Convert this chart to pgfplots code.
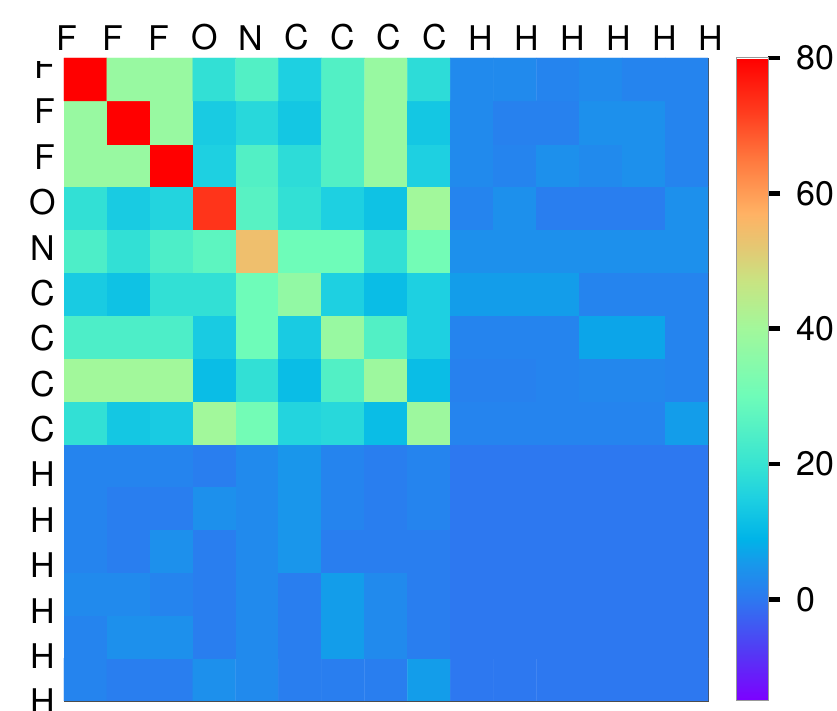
\documentclass[border=0pt]{standalone}
\usepackage{fontspec}
\setmainfont{TeX Gyre Heros}
\usepackage{pgfplots}
\pgfplotsset{compat=1.18}
\pgfplotsset{
  colormap={ref}{rgb255(0pt)=(125,0,255) rgb255(7pt)=(85,55,245) rgb255(15pt)=(45,120,240) rgb255(20pt)=(25,150,235) rgb255(24pt)=(0,180,232) rgb255(30pt)=(30,208,225) rgb255(35pt)=(55,228,210) rgb255(45pt)=(110,252,185) rgb255(55pt)=(162,248,155) rgb255(62pt)=(200,228,130) rgb255(67pt)=(228,200,115) rgb255(72pt)=(255,178,100) rgb255(80pt)=(255,120,62) rgb255(87pt)=(255,60,30) rgb255(95pt)=(255,0,0)}
}
\begin{document}
\begin{tikzpicture}
\begin{axis}[
  at={(0,0)}, anchor=south west,
  scale only axis, width=644bp, height=643bp,
  xmin=-0.5, xmax=14.5, ymin=-0.5, ymax=14.5,
  enlargelimits=false,
  axis line style={draw=black!70, line width=0.8bp},
  xtick={-0.4999,0.5714,1.6429,2.7143,3.7857,4.8571,5.9286,7.0,8.0714,9.1429,10.2143,11.2857,12.3571,13.4286,14.4999},
  xticklabels={F,F,F,O,N,C,C,C,C,H,H,H,H,H,H},
  xticklabel pos=upper,
  ytick={-0.485,0.573,1.632,2.690,3.749,4.807,5.866,6.925,7.983,9.042,10.100,11.159,12.217,13.276,14.334},
  yticklabels={H,H,H,H,H,H,C,C,C,C,N,O,F,F,F},
  major tick length=0pt,
  tick label style={font=\fontsize{34bp}{40bp}\selectfont},
  xticklabel style={xshift=3bp, yshift=4bp},
  yticklabel style={xshift=-5bp, yshift=-1bp},
  colormap name=ref,
  point meta min=-15, point meta max=80,
  colorbar,
  colorbar/width=32bp,
  colorbar shift/.style={},
  colorbar style={
    at={(parent axis.north east)}, anchor=north west, xshift=28bp,
    width=32bp,
    ytick={0,20,40,60,80},
    ytick pos=right,
    yticklabel pos=right,
    tick align=outside,
    major tick length=12bp,
    every tick/.style={draw=black, line width=4.5bp},
    every major tick/.style={draw=black, line width=4.5bp},
    ytick style={draw=black, line width=4.5bp},
    axis line style={draw=black!40, line width=1bp},
    tick label style={font=\fontsize{34bp}{40bp}\selectfont},
    yticklabel style={xshift=13bp},
    /pgf/number format/assume math mode=true,
  },
]
\addplot[matrix plot*, mesh/cols=15, point meta=explicit] coordinates {
(0,0)[2] (1,0)[1] (2,0)[1] (3,0)[4] (4,0)[3] (5,0)[1] (6,0)[1] (7,0)[1] (8,0)[6] (9,0)[0] (10,0)[0] (11,0)[0] (12,0)[0] (13,0)[0] (14,0)[0]
(0,1)[2] (1,1)[4] (2,1)[4] (3,1)[1] (4,1)[3] (5,1)[1] (6,1)[6] (7,1)[3] (8,1)[1] (9,1)[0] (10,1)[0] (11,1)[0] (12,1)[0] (13,1)[0] (14,1)[0]
(0,2)[3] (1,2)[3] (2,2)[2] (3,2)[1] (4,2)[3] (5,2)[1] (6,2)[6] (7,2)[3] (8,2)[1] (9,2)[0] (10,2)[0] (11,2)[0] (12,2)[0] (13,2)[0] (14,2)[0]
(0,3)[2] (1,3)[1] (2,3)[4] (3,3)[1] (4,3)[3] (5,3)[5] (6,3)[1] (7,3)[1] (8,3)[1] (9,3)[0] (10,3)[0] (11,3)[0] (12,3)[0] (13,3)[0] (14,3)[0]
(0,4)[2] (1,4)[1] (2,4)[1] (3,4)[4] (4,4)[3] (5,4)[5] (6,4)[2] (7,4)[1] (8,4)[2] (9,4)[0] (10,4)[0] (11,4)[0] (12,4)[0] (13,4)[0] (14,4)[0]
(0,5)[2] (1,5)[2] (2,5)[2] (3,5)[1] (4,5)[3] (5,5)[5] (6,5)[2] (7,5)[1] (8,5)[2] (9,5)[0] (10,5)[0] (11,5)[0] (12,5)[0] (13,5)[0] (14,5)[0]
(0,6)[19] (1,6)[13] (2,6)[14] (3,6)[40] (4,6)[31] (5,6)[16] (6,6)[17] (7,6)[11] (8,6)[39] (9,6)[2] (10,6)[2] (11,6)[2] (12,6)[2] (13,6)[2] (14,6)[6]
(0,7)[40] (1,7)[40] (2,7)[40] (3,7)[11] (4,7)[19] (5,7)[11] (6,7)[25] (7,7)[39] (8,7)[11] (9,7)[1.5] (10,7)[1.5] (11,7)[2] (12,7)[2.5] (13,7)[2.5] (14,7)[2]
(0,8)[24] (1,8)[24] (2,8)[24] (3,8)[14] (4,8)[30] (5,8)[14] (6,8)[38] (7,8)[25] (8,8)[15] (9,8)[2] (10,8)[2] (11,8)[2] (12,8)[7] (13,8)[7] (14,8)[2]
(0,9)[14] (1,9)[12] (2,9)[19] (3,9)[19] (4,9)[30] (5,9)[37] (6,9)[15] (7,9)[11] (8,9)[15] (9,9)[6] (10,9)[6] (11,9)[6] (12,9)[2] (13,9)[2] (14,9)[2]
(0,10)[24] (1,10)[19] (2,10)[24] (3,10)[27] (4,10)[54] (5,10)[30] (6,10)[30] (7,10)[19] (8,10)[31] (9,10)[4] (10,10)[4] (11,10)[4] (12,10)[4] (13,10)[4] (14,10)[4]
(0,11)[19] (1,11)[14] (2,11)[16] (3,11)[73] (4,11)[26] (5,11)[19] (6,11)[15] (7,11)[12] (8,11)[40] (9,11)[2] (10,11)[4] (11,11)[1] (12,11)[1] (13,11)[1] (14,11)[4]
(0,12)[38] (1,12)[38] (2,12)[80] (3,12)[15] (4,12)[25] (5,12)[18] (6,12)[25] (7,12)[38] (8,12)[15] (9,12)[3] (10,12)[2] (11,12)[4] (12,12)[3] (13,12)[4] (14,12)[2]
(0,13)[38] (1,13)[80] (2,13)[38] (3,13)[14] (4,13)[17] (5,13)[13] (6,13)[25] (7,13)[38] (8,13)[13] (9,13)[3] (10,13)[1.5] (11,13)[1.5] (12,13)[4] (13,13)[4] (14,13)[2]
(0,14)[80] (1,14)[38] (2,14)[38] (3,14)[19] (4,14)[25] (5,14)[15] (6,14)[25] (7,14)[38] (8,14)[18] (9,14)[3] (10,14)[3] (11,14)[2] (12,14)[3] (13,14)[2] (14,14)[2]
};
\end{axis}
\fill[white] (-64bp,640bp) rectangle (-1bp,651bp);
\pgfresetboundingbox
\useasboundingbox (-64bp,-10bp) rectangle (773bp,701bp);
\end{tikzpicture}
\end{document}
